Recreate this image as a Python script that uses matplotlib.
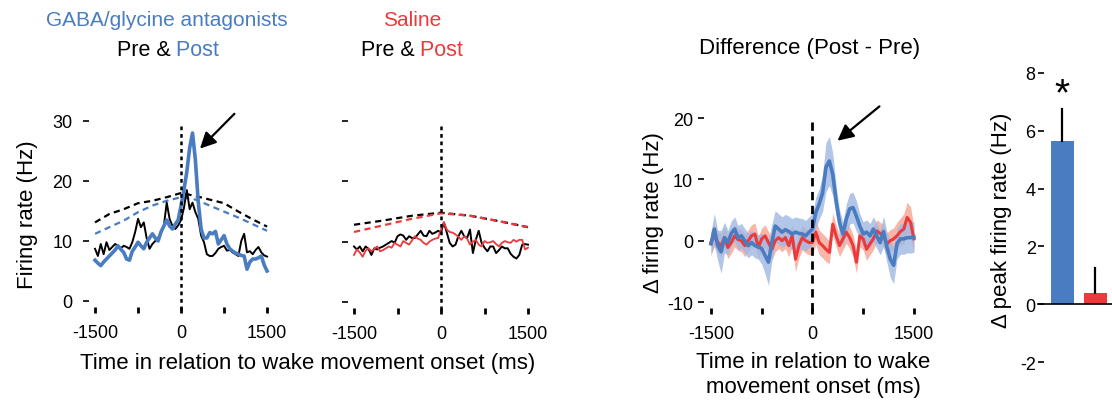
import numpy as np
import matplotlib
matplotlib.use("Agg")
import matplotlib.pyplot as plt

plt.rcParams['font.family'] = ['Liberation Sans', 'DejaVu Sans']
plt.rcParams['axes.unicode_minus'] = False

W, H = 1112, 402
BLUE = '#4a7cc2'
RED = '#ec3a3c'
BLUE_BAND = '#9fb8e3'
RED_BAND = '#f5a493'

# ---------------- data ----------------
time_ms = np.arange(-1500, 1501, 50)

gaba_pre = [8.7, 7.5, 9.5, 7.8, 9.8, 8.5, 9.0, 9.5, 9.2, 8.8, 9.2, 9.0, 8.7, 9.8, 11.5, 13.7,
            12.3, 13.1, 10.5, 8.7, 9.5, 10.0, 10.5, 11.4, 12.5, 16.4, 13.7, 12.5, 12.0, 12.6,
            13.5, 15.5, 18.5, 15.3, 16.4, 14.8, 13.7, 10.9, 9.8, 7.8, 7.5, 7.5, 8.0, 8.7, 9.0,
            9.2, 8.4, 8.5, 8.1, 7.8, 7.5, 10.0, 11.2, 8.1, 8.3, 7.8, 8.5, 9.0, 8.1, 7.6, 7.4]
gaba_post = [6.8, 6.3, 5.9, 6.5, 7.0, 7.5, 8.0, 8.5, 9.2, 8.6, 8.1, 7.0, 6.8, 8.3, 9.0, 9.8,
             9.2, 8.7, 9.8, 10.5, 11.2, 10.5, 10.0, 11.5, 12.5, 13.5, 12.5, 12.0, 12.8, 13.5,
             15.9, 18.5, 21.5, 25.5, 28.0, 23.5, 16.5, 12.0, 10.5, 10.5, 11.4, 11.2, 11.6, 9.5,
             10.2, 10.9, 9.5, 8.7, 8.3, 8.0, 7.8, 7.6, 7.5, 5.3, 6.5, 7.0, 7.0, 7.2, 7.5, 6.0, 5.0]

fit_time = [-1500, -1250, -1000, -750, -500, -250, 0, 250, 500, 750, 1000, 1250, 1500]
gaba_pre_fit = [13.1, 14.5, 15.3, 16.3, 16.7, 17.3, 18.0, 17.5, 16.9, 16.3, 14.9, 13.6, 12.4]
gaba_post_fit = [11.2, 12.3, 13.4, 14.8, 15.9, 16.7, 17.3, 16.9, 15.9, 14.9, 13.9, 12.8, 11.7]

sal_pre = [9.2, 8.7, 9.2, 8.4, 9.2, 8.8, 7.8, 8.9, 8.7, 9.0, 9.2, 9.5, 9.8, 10.1, 9.8, 10.9,
           11.2, 11.0, 10.3, 10.9, 10.6, 10.6, 11.2, 11.8, 11.0, 10.9, 11.8, 11.3, 11.5, 11.8,
           11.5, 13.2, 11.5, 9.8, 9.2, 9.5, 10.9, 11.8, 10.9, 10.6, 12.0, 8.1, 10.3, 11.8, 9.8,
           9.0, 8.4, 9.2, 9.2, 8.1, 8.6, 9.2, 8.9, 8.9, 8.0, 7.5, 7.2, 7.8, 9.5, 9.6, 9.5]
sal_post = [7.8, 8.7, 8.2, 7.5, 8.5, 8.9, 8.4, 8.8, 9.2, 8.4, 8.6, 8.9, 9.2, 9.0, 9.8, 9.5,
            9.2, 10.1, 9.8, 9.5, 10.2, 10.9, 10.5, 10.3, 9.8, 9.5, 10.0, 10.3, 10.5, 10.6,
            12.0, 13.2, 12.0, 11.6, 11.5, 11.2, 10.8, 10.3, 10.9, 10.5, 9.5, 10.0, 10.3, 9.5,
            9.2, 10.1, 9.8, 9.9, 10.1, 9.6, 9.2, 9.8, 10.1, 9.9, 9.8, 10.3, 10.0, 10.3, 10.3, 8.7, 9.0]

sal_fit_time = [-1500, -1000, -500, 0, 500, 1000, 1500]
sal_pre_fit = [12.8, 13.5, 14.3, 14.8, 14.3, 13.4, 12.4]
sal_post_fit = [11.6, 12.7, 13.8, 14.7, 14.3, 13.4, 12.4]

diff_gaba = [-0.5, 1.9, -0.8, -1.8, 0.5, -0.3, 1.2, 1.9, 0.5, 0.8, 0.0, -0.8, -0.3, -0.8, -1.0,
             -1.3, -2.4, -3.5, -0.3, 2.4, 1.9, 1.4, 1.8, 1.5, 1.1, 1.4, 1.2, 1.1, 0.8, 1.4, 1.9,
             4.6, 6.0, 7.8, 12.0, 13.0, 10.8, 6.5, 3.0, 1.1, 3.5, 5.2, 5.4, 4.0, 2.4, 1.1, 1.4,
             0.8, 1.9, 0.8, -0.3, 1.5, -1.0, -3.0, -4.0, -0.5, 0.3, 0.3, 0.5, 0.5, 0.6]
diff_gaba_sem = [2.0, 2.5, 2.5, 3.5, 2.5, 2.0, 2.0, 2.0, 2.0, 2.0, 2.0, 2.0, 2.0, 2.0, 2.0,
                 2.5, 3.0, 3.8, 3.0, 2.5, 2.5, 2.5, 2.5, 2.5, 2.5, 2.5, 2.5, 2.5, 2.5, 2.5, 2.5,
                 2.5, 2.5, 3.0, 4.0, 4.0, 3.5, 2.5, 2.0, 2.0, 2.5, 2.5, 2.5, 2.5, 2.0, 2.0, 2.0,
                 2.0, 2.0, 2.0, 2.0, 2.5, 2.5, 3.0, 3.0, 2.5, 2.5, 2.5, 2.5, 2.5, 2.5]
diff_sal = [-0.3, 0.8, -0.3, -0.8, 0.5, -1.1, -0.3, 0.8, 0.2, 0.0, -0.8, 0.0, 0.8, 1.1, -1.1,
            0.3, 0.8, -0.3, -1.4, 0.0, 0.5, 0.0, 0.5, -0.8, 0.8, -3.0, -0.8, 0.5, 0.0, -0.3,
            -0.3, 1.4, -0.3, -0.8, -1.4, -1.9, 2.7, 0.8, -0.8, 0.3, 1.4, 0.5, -0.8, -3.5, 0.8,
            0.3, -1.4, -0.5, 0.3, 1.6, 1.2, 0.8, -0.5, 0.0, 0.3, 0.8, 1.5, 1.9, 3.8, 3.0, 0.3]
diff_sal_sem = [1.8] * 25 + [2.0] * 10 + [1.8] * 20 + [2.2, 2.2, 2.5, 2.5, 2.5, 2.0]

bar_groups = ['GABA/glycine', 'Saline']
peak_diff = [5.65, 0.4]
peak_err = [1.1, 0.85]
bar_colors = [BLUE, RED]

# ---------------- layout helpers ----------------
fig = plt.figure(figsize=(W / 100, H / 100), dpi=100)


def rect(left, top, width, height):
    return [left / W, 1 - (top + height) / H, width / W, height / H]


def ftext(x, y, s, **kw):
    return fig.text(x / W, 1 - y / H, s, **kw)


def style(ax, pad_y=8, pad_x=8):
    for sp in ax.spines.values():
        sp.set_visible(False)
    ax.tick_params(axis='y', direction='out', length=4, width=1.2, pad=pad_y, labelsize=13)
    ax.tick_params(axis='x', direction='out', length=4, width=2, pad=pad_x, labelsize=13)


xt = [-1500, -750, 0, 750, 1500]
xtl = ['-1500', '', '0', '', '1500']

# Panel 1
ax1 = fig.add_axes(rect(89.3, 116, 183.5, 192))
style(ax1)
ax1.plot(fit_time, gaba_pre_fit, color='k', lw=1.6, ls=(0, (2.8, 2.0)))
ax1.plot(fit_time, gaba_post_fit, color=BLUE, lw=1.6, ls=(0, (2.8, 2.0)))
ax1.plot(time_ms, gaba_pre, color='k', lw=1.4)
ax1.plot(time_ms, gaba_post, color=BLUE, lw=2.6)
ax1.plot([0, 0], [29.2, -1.7], color='k', lw=1.8, ls=(0, (1.5, 1.5)), clip_on=False)
ax1.set_xlim(-1600, 1600)
ax1.set_ylim(-1, 31)
ax1.set_yticks([0, 10, 20, 30])
ax1.set_xticks(xt)
ax1.set_xticklabels(xtl)
ax1.annotate('', xy=(330, 25.4), xytext=(930, 31.2), annotation_clip=False,
             arrowprops=dict(arrowstyle='-|>', color='k', lw=1.6, mutation_scale=24,
                             shrinkA=0, shrinkB=0))

# Panel 2
ax2 = fig.add_axes(rect(348.2, 116, 185.6, 193))
style(ax2)
ax2.plot(sal_fit_time, sal_pre_fit, color='k', lw=1.6, ls=(0, (2.8, 2.0)))
ax2.plot(sal_fit_time, sal_post_fit, color=RED, lw=1.6, ls=(0, (2.8, 2.0)))
ax2.plot(time_ms, sal_pre, color='k', lw=1.4)
ax2.plot(time_ms, sal_post, color=RED, lw=1.3)
ax2.plot([0, 0], [29.2, -1.7], color='k', lw=1.8, ls=(0, (1.5, 1.5)), clip_on=False)
ax2.set_xlim(-1600, 1600)
ax2.set_ylim(-1, 31)
ax2.set_yticks([0, 10, 20, 30])
ax2.set_yticklabels([])
ax2.set_xticks(xt)
ax2.set_xticklabels(xtl)

# Panel 3
ax3 = fig.add_axes(rect(704.2, 112.9, 216.5, 196.3))
style(ax3, pad_y=4)
g = np.array(diff_gaba)
gs = np.array(diff_gaba_sem)
s = np.array(diff_sal)
ss = np.array(diff_sal_sem)
ax3.fill_between(time_ms, s - ss, s + ss, color=RED_BAND, alpha=0.8, lw=0)
ax3.fill_between(time_ms, g - gs, g + gs, color=BLUE_BAND, alpha=0.8, lw=0)
ax3.plot(time_ms, s, color=RED, lw=2.2)
ax3.plot(time_ms, g, color=BLUE, lw=2.6)
ax3.plot([0, 0], [19.4, -11.4], color='k', lw=2.0, ls=(0, (3.0, 2.0)), clip_on=False)
ax3.set_xlim(-1600, 1600)
ax3.set_ylim(-11, 21)
ax3.set_yticks([-10, 0, 10, 20])
ax3.set_xticks(xt)
ax3.set_xticklabels(xtl)
ax3.annotate('', xy=(370, 16.3), xytext=(990, 21.9), annotation_clip=False,
             arrowprops=dict(arrowstyle='-|>', color='k', lw=1.6, mutation_scale=24,
                             shrinkA=0, shrinkB=0))

# Panel 4
ax4 = fig.add_axes(rect(1044, 68.2, 68, 300.6))
for sp in ax4.spines.values():
    sp.set_visible(False)
ax4.tick_params(axis='y', direction='out', length=4, width=1.2, pad=2, labelsize=13)
xpos = np.arange(len(bar_groups))
ax4.bar(xpos, peak_diff, width=0.7, color=bar_colors, edgecolor='none')
for xi, v, e in zip(xpos, peak_diff, peak_err):
    ax4.plot([xi, xi], [v, v + e], color='k', lw=1.6)
ax4.plot([-0.74, 1.5], [0, 0], color='k', lw=1.2, clip_on=False)
ax4.text(0, 6.9, '*', ha='center', va='baseline', fontsize=28)
ax4.set_xlim(-0.56, 1.5)
ax4.set_ylim(-2.2, 8.2)
ax4.set_yticks([-2, 0, 2, 4, 6, 8])
ax4.set_xticks([])

# ---------------- texts ----------------
ftext(167, 20, 'GABA/glycine antagonists', color=BLUE, fontsize=15, ha='center', va='center')
ftext(412, 20, 'Saline', color=RED, fontsize=15, ha='center', va='center')
ftext(810, 49, 'Difference (Post - Pre)', color='k', fontsize=16, ha='center', va='center')


def two_color(xc, yc, a, b, cb, size):
    r = fig.canvas.get_renderer()
    t1 = ftext(0, yc, a, color='k', fontsize=size, ha='left', va='center')
    t2 = ftext(0, yc, b, color=cb, fontsize=size, ha='left', va='center')
    w1 = t1.get_window_extent(r).width
    w2 = t2.get_window_extent(r).width
    x0 = xc - (w1 + w2) / 2
    t1.set_x(x0 / W)
    t2.set_x((x0 + w1) / W)


two_color(168, 50, 'Pre &', ' Post', BLUE, 15.5)
two_color(412, 50, 'Pre &', ' Post', RED, 15.5)

ftext(308, 364, 'Time in relation to wake movement onset (ms)', fontsize=16, ha='center', va='center')
ftext(813, 363, 'Time in relation to wake', fontsize=16, ha='center', va='center')
ftext(813, 388, 'movement onset (ms)', fontsize=16, ha='center', va='center')
ftext(27, 215, 'Firing rate (Hz)', fontsize=16, rotation=90, ha='center', va='center')
ftext(653, 213, 'Δ firing rate (Hz)', fontsize=16, rotation=90, ha='center', va='center')
ftext(1002, 220, 'Δ peak firing rate (Hz)', fontsize=16, rotation=90, ha='center', va='center')

fig.savefig('out.png', dpi=100)
